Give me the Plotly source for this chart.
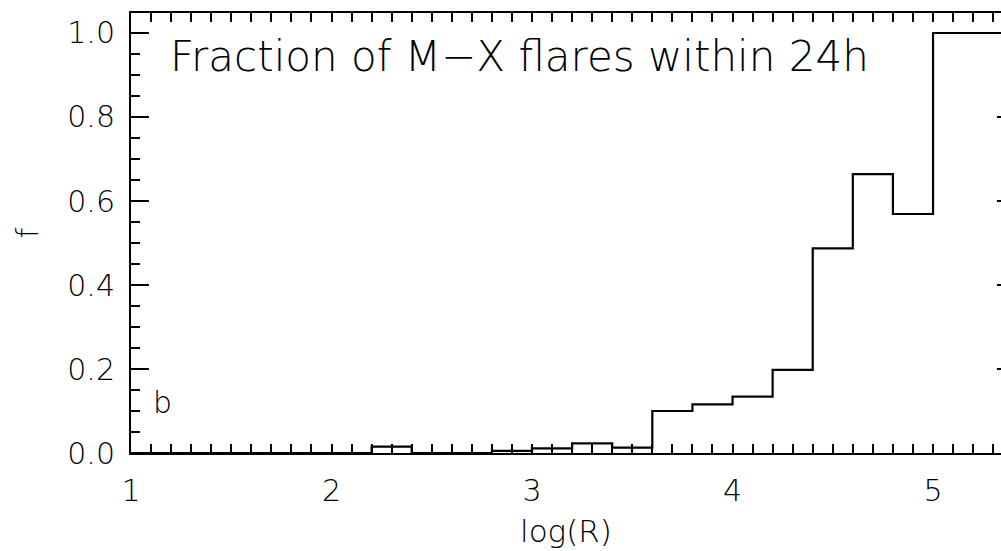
import plotly.graph_objects as go

# Histogram of flare fraction versus log(R), bins of width 0.2
bin_left = [1.0, 1.2, 1.4, 1.6, 1.8, 2.0, 2.2, 2.4, 2.6, 2.8, 3.0,
            3.2, 3.4, 3.6, 3.8, 4.0, 4.2, 4.4, 4.6, 4.8, 5.0, 5.2]
bin_right_end = 5.4
fraction = [0.0, 0.0, 0.0, 0.0, 0.0, 0.0, 0.015, 0.0, 0.0, 0.005, 0.011,
            0.023, 0.013, 0.100, 0.116, 0.134, 0.198, 0.487, 0.664, 0.569, 1.0, 1.0]

x_ticks = [1, 2, 3, 4, 5]
y_ticks = [0.0, 0.2, 0.4, 0.6, 0.8, 1.0]

FONT = "DejaVu Sans"
W = 200
INK = "black"

step_x = bin_left + [bin_right_end]
step_y = fraction + [fraction[-1]]

fig = go.Figure()
fig.add_trace(go.Scatter(
    x=step_x, y=step_y, mode="lines", line_shape="hv",
    line=dict(color="black", width=2.2), showlegend=False, hoverinfo="skip",
))
# companion trace so the right-hand tick stubs get drawn
fig.add_trace(go.Scatter(x=[None], y=[None], yaxis="y2", showlegend=False,
                         hoverinfo="skip"))

fig.update_layout(
    width=1001, height=551,
    margin=dict(l=131, r=0, t=13, b=98),
    paper_bgcolor="white", plot_bgcolor="white",
    font=dict(family=FONT, color=INK, weight=W),
    xaxis=dict(
        range=[1, 5.339], tickmode="array", tickvals=x_ticks,
        ticktext=[str(v) for v in x_ticks],
        showline=True, linecolor="black", linewidth=2, mirror="allticks",
        ticks="inside", ticklen=9, tickwidth=2, tickcolor="black",
        minor=dict(dtick=0.1, tick0=1, ticks="inside", ticklen=3,
                   tickwidth=2, tickcolor="black", showgrid=False),
        showgrid=False, zeroline=False,
        tickfont=dict(family=FONT, size=30, color=INK, weight=W),
        ticklabelstandoff=10,
        title=dict(text="log(R)", font=dict(family=FONT, size=31, color=INK, weight=W),
                   standoff=13),
    ),
    yaxis=dict(
        range=[0, 1.0476], tickmode="array", tickvals=y_ticks,
        ticktext=[f"{v:.1f}" for v in y_ticks],
        showline=True, linecolor="black", linewidth=2, mirror=False,
        ticks="inside", ticklen=18, tickwidth=2, tickcolor="black",
        minor=dict(dtick=0.05, tick0=0, ticks="inside", ticklen=9,
                   tickwidth=2, tickcolor="black", showgrid=False),
        showgrid=False, zeroline=False,
        tickfont=dict(family=FONT, size=30, color=INK, weight=W),
        ticklabelstandoff=8,
        title=dict(text="f", font=dict(family=FONT, size=30, color=INK, weight=W),
                   standoff=20),
    ),
    yaxis2=dict(
        overlaying="y", side="right", anchor="x", range=[0, 1.0476],
        tickmode="array", tickvals=y_ticks, showticklabels=False,
        ticks="inside", ticklen=4, tickwidth=2, tickcolor="black",
        showline=False, showgrid=False, zeroline=False,
    ),
    annotations=[
        dict(text="Fraction of M\u2212X flares within 24h", x=1.185, y=0.943,
             xref="x", yref="y", xanchor="left", yanchor="middle",
             showarrow=False, font=dict(family=FONT, size=42, color=INK, weight=W)),
        dict(text="b", x=1.1, y=0.12, xref="x", yref="y",
             xanchor="left", yanchor="middle", showarrow=False,
             font=dict(family=FONT, size=30, color=INK, weight=W)),
    ],
)

fig.write_html("out.html")
